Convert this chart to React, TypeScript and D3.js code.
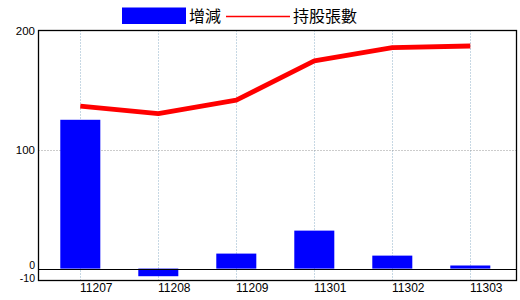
import React from "react";
import * as d3 from "d3";

const categories = ["11207", "11208", "11209", "11301", "11302", "11303"];
const changeValues = [125, -6.4, 12.6, 31.9, 10.9, 2.6];
const holdingValues = [136.4, 130.2, 141.5, 174.4, 185.6, 187];
const yTicks = [-10, 0, 100, 200];
const legendLabels = ["增減", "持股張數"];

const W = 520;
const H = 300;
const left = 38.5;
const right = 516.5;
const top = 30.5;
const bottom = 280.5;

export default function App() {
  const x = d3.scaleBand<string>().domain(categories).range([41.3, 509.3]).padding(0);
  const y = d3.scaleLinear().domain([-10, 200]).range([bottom, top]);
  const cx = (c: string) => (x(c) as number) + x.bandwidth() / 2;
  const barW = x.bandwidth() * 0.513;
  const line = d3
    .line<number>()
    .x((_, i) => cx(categories[i]))
    .y((d) => y(d));
  const numFont = "'Liberation Sans', Arial, sans-serif";
  const cjkFont = "'Noto Sans CJK TC', sans-serif";
  const tickShift = (t: number) => (t === 0 ? -3 : t === -10 ? -2.5 : 0);

  return (
    <svg
      width={W}
      height={H}
      style={{ position: "absolute", left: 0, top: 0, background: "#fff" }}
    >
      {categories.map((c) => (
        <line
          key={"vg" + c}
          x1={Math.round(cx(c)) + 0.5}
          x2={Math.round(cx(c)) + 0.5}
          y1={top}
          y2={bottom}
          stroke="#8fb0c8"
          strokeDasharray="1,2"
        />
      ))}
      <line
        x1={left}
        x2={right}
        y1={Math.round(y(100)) + 0.5}
        y2={Math.round(y(100)) + 0.5}
        stroke="#999"
        strokeDasharray="1,2"
      />
      {categories.map((c, i) => {
        const v = changeValues[i];
        const y0 = y(0);
        const yv = y(v);
        return (
          <rect
            key={"b" + c}
            x={cx(c) - barW / 2}
            y={Math.min(y0, yv)}
            width={barW}
            height={Math.abs(yv - y0)}
            fill="#0000ff"
          />
        );
      })}
      <line
        x1={left}
        x2={right}
        y1={Math.round(y(0)) + 0.5}
        y2={Math.round(y(0)) + 0.5}
        stroke="#000"
        strokeWidth={1.2}
      />
      <path
        d={line(holdingValues) || ""}
        fill="none"
        stroke="#ff0000"
        strokeWidth={4.8}
        strokeLinejoin="round"
      />
      <rect
        x={left}
        y={top}
        width={right - left}
        height={bottom - top}
        fill="none"
        stroke="#000"
        strokeWidth={1.3}
      />
      {yTicks.map((t) => (
        <text
          key={"yt" + t}
          x={35}
          y={y(t) + tickShift(t)}
          dy="0.35em"
          textAnchor="end"
          fontFamily={numFont}
          fontSize={t <= 0 ? 10.5 : 11.5}
          fill="#000"
        >
          {t}
        </text>
      ))}
      {categories.map((c) => (
        <text
          key={"xl" + c}
          x={cx(c) + 16}
          y={292}
          textAnchor="middle"
          fontFamily={numFont}
          fontSize={12}
          fill="#000"
        >
          {c}
        </text>
      ))}
      <rect x={122} y={7.5} width={64} height={16.5} fill="#0000ff" />
      <text x={189} y={22} fontFamily={cjkFont} fontSize={16} fill="#000">
        {legendLabels[0]}
      </text>
      <line x1={226} x2={290} y1={16.5} y2={16.5} stroke="#ff0000" strokeWidth={1.3} />
      <text x={293} y={22} fontFamily={cjkFont} fontSize={16} fill="#000">
        {legendLabels[1]}
      </text>
    </svg>
  );
}
